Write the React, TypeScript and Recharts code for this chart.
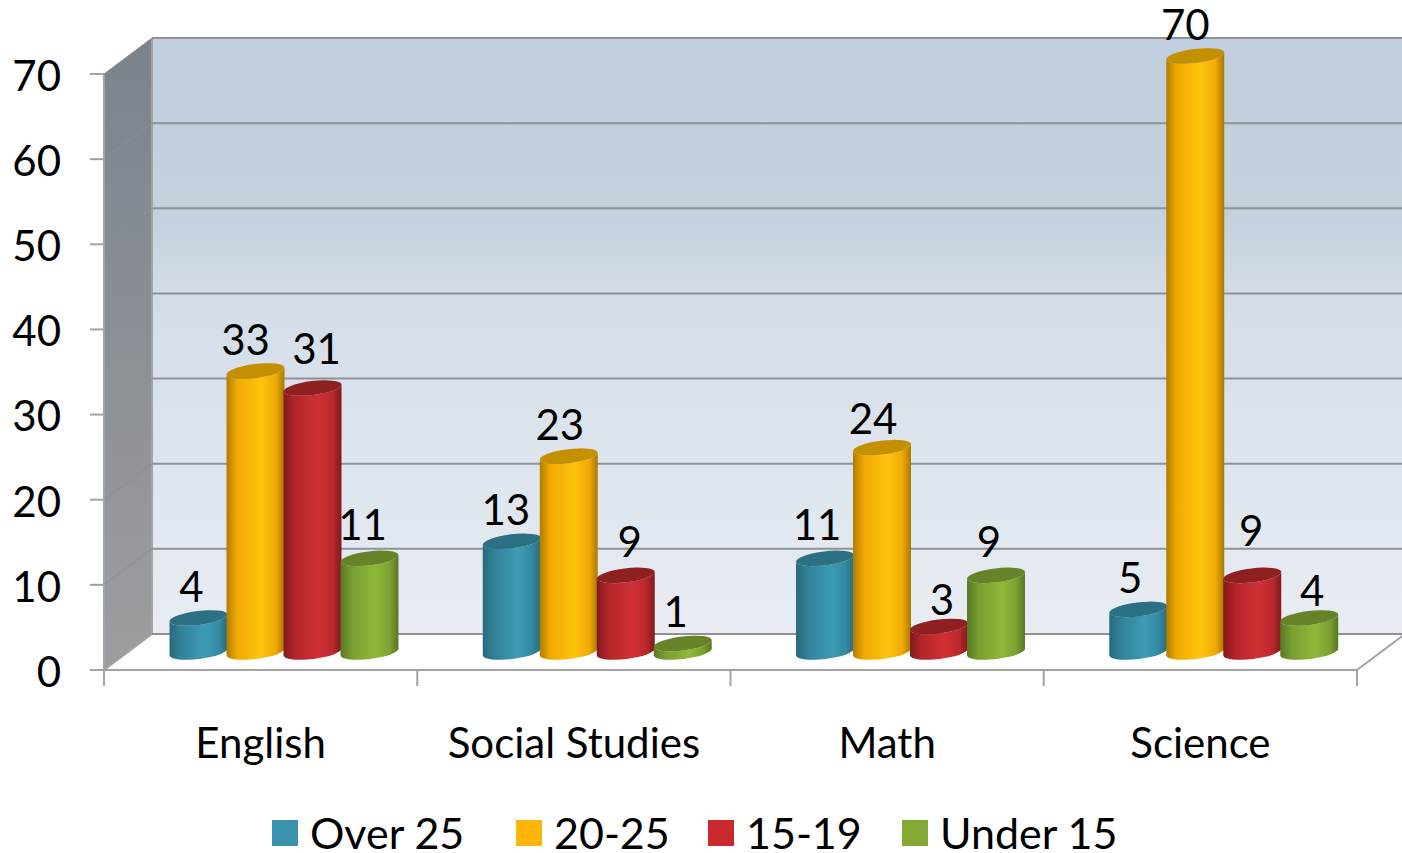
import { BarChart, Bar, XAxis, YAxis, CartesianGrid, Legend, LabelList, ReferenceArea } from 'recharts';

const subjects = ['English', 'Social Studies', 'Math', 'Science'];
const over25 = [4, 13, 11, 5];
const age20to25 = [33, 23, 24, 70];
const age15to19 = [31, 9, 3, 9];
const under15 = [11, 1, 9, 4];
const yTicks = [0, 10, 20, 30, 40, 50, 60, 70];

const data = subjects.map((subject, i) => ({
  subject,
  over25: over25[i],
  age20to25: age20to25[i],
  age15to19: age15to19[i],
  under15: under15[i],
}));

const FONT = 'Lato, sans-serif';
const GRAY = '#a3a3a3';

// depth of the fake 3d box
const DX = 48;
const DY = 36;
// bars stand halfway into the box
const BAR_DX = 24;
const BAR_DY = 18;
const TILT = 7;

const tiltCos = Math.cos((TILT * Math.PI) / 180);
const tiltSin = Math.sin((TILT * Math.PI) / 180);

const Cylinder = (props: any) => {
  const { x, y, width, height, gradient, topColor } = props;
  const cx = x + width / 2 + BAR_DX;
  const topY = y - BAR_DY;
  const baseY = y + height - BAR_DY;
  const rx = width / 2 + 0.7;
  const ry = 7;
  const ex = rx * tiltCos;
  const ey = rx * tiltSin;
  const body = [
    `M${cx - ex},${topY + ey}`,
    `L${cx - ex},${baseY + ey}`,
    `A${rx},${ry} ${-TILT} 0 0 ${cx + ex},${baseY - ey}`,
    `L${cx + ex},${topY - ey}`,
    `A${rx},${ry} ${-TILT} 0 1 ${cx - ex},${topY + ey}`,
    'Z',
  ].join(' ');
  return (
    <g>
      <path d={body} fill={`url(#${gradient})`} />
      <ellipse cx={cx} cy={topY} rx={rx} ry={ry} fill={topColor} transform={`rotate(${-TILT} ${cx} ${topY})`} />
    </g>
  );
};

// label offsets by subject, the original chart placed them by hand
const valueLabel = (nudges: number[][]) => (props: any) => {
  const { x, y, width, value, index } = props;
  const [nx, ny] = nudges[index];
  return (
    <text
      x={x + width / 2 + BAR_DX + nx}
      y={y - BAR_DY - 32 + ny}
      textAnchor="middle"
      dominantBaseline="central"
      fontFamily={FONT}
      fontSize={42}
      fill="#000"
    >
      {value}
    </text>
  );
};

const Walls = (props: any) => {
  const { x, y, width, height } = props;
  const bottom = y + height;
  return (
    <g>
      <polygon
        points={`${x + DX},${y - DY} ${x + width + DX},${y - DY} ${x + width + DX},${bottom - DY} ${x + DX},${bottom - DY}`}
        fill="url(#backWall)"
      />
      <polygon
        points={`${x},${y} ${x + DX},${y - DY} ${x + DX},${bottom - DY} ${x},${bottom}`}
        fill="url(#sideWall)"
      />
      <line x1={x + DX} y1={y - DY} x2={x + DX} y2={bottom - DY} stroke={GRAY} strokeWidth={2} />
      <line x1={x + width} y1={bottom} x2={x + width + DX} y2={bottom - DY} stroke={GRAY} strokeWidth={2} />
    </g>
  );
};

// grid line runs along the side wall, then along the back wall
const gridLine = (props: any) => {
  const { x1, x2, y1, index } = props;
  return (
    <g key={`grid-${index}`}>
      <line x1={x1} y1={y1} x2={x1 + DX} y2={y1 - DY} stroke={y1 > 660 ? GRAY : '#8b8f92'} strokeWidth={y1 > 660 ? 2 : 1} />
      <line x1={x1 + DX} y1={y1 - DY} x2={x2 + DX} y2={y1 - DY} stroke="#8f9295" strokeWidth={2} />
    </g>
  );
};

const SubjectTick = (props: any) => {
  const { x, y, payload, index, width } = props;
  const band = width / subjects.length;
  return (
    <g>
      <line x1={x - band / 2} y1={y - 8} x2={x - band / 2} y2={y + 8} stroke={GRAY} strokeWidth={2} />
      {index === subjects.length - 1 && (
        <line x1={x + band / 2} y1={y - 8} x2={x + band / 2} y2={y + 8} stroke={GRAY} strokeWidth={2} />
      )}
      <text x={x} y={y + 64} textAnchor="middle" dominantBaseline="central" fontFamily={FONT} fontSize={42} fill="#000">
        {payload.value}
      </text>
    </g>
  );
};

const legendWidths = [244, 192, 194, 240];

const LegendRow = (props: any) => (
  <div style={{ display: 'flex', alignItems: 'center', fontFamily: FONT, fontSize: 43, lineHeight: '40px', color: '#000' }}>
    {props.payload.map((item: any, i: number) => (
      <div key={item.value} style={{ display: 'flex', alignItems: 'center', width: legendWidths[i], whiteSpace: 'nowrap' }}>
        <span style={{ width: 26, height: 26, background: item.color, marginRight: 12, display: 'inline-block' }} />
        {item.value}
      </div>
    ))}
  </div>
);

export default function App() {
  return (
    <div style={{ position: 'absolute', left: 0, top: 0 }}>
      <BarChart
        width={1402}
        height={853}
        data={data}
        margin={{ top: 74, right: 45, bottom: 0, left: 0 }}
        barCategoryGap={42}
        barGap={0}
      >
        <defs>
          <linearGradient id="backWall" x1="0" y1="0" x2="0" y2="1">
            <stop offset="0" stopColor="#c2cfde" />
            <stop offset="0.3" stopColor="#c3d0de" />
            <stop offset="0.42" stopColor="#d2dce8" />
            <stop offset="1" stopColor="#e9edf3" />
          </linearGradient>
          <linearGradient id="sideWall" x1="0" y1="0" x2="0" y2="1">
            <stop offset="0" stopColor="#7b838b" />
            <stop offset="1" stopColor="#9c9ea1" />
          </linearGradient>
          <linearGradient id="cylTeal" x1="0" y1="0" x2="1" y2="0">
            <stop offset="0" stopColor="#29697c" />
            <stop offset="0.2" stopColor="#318299" />
            <stop offset="0.6" stopColor="#3e9bb4" />
            <stop offset="0.85" stopColor="#338aa2" />
            <stop offset="1" stopColor="#296a7c" />
          </linearGradient>
          <linearGradient id="cylYellow" x1="0" y1="0" x2="1" y2="0">
            <stop offset="0" stopColor="#b07c00" />
            <stop offset="0.18" stopColor="#f0a900" />
            <stop offset="0.6" stopColor="#ffc40f" />
            <stop offset="0.85" stopColor="#efaa05" />
            <stop offset="1" stopColor="#a97800" />
          </linearGradient>
          <linearGradient id="cylRed" x1="0" y1="0" x2="1" y2="0">
            <stop offset="0" stopColor="#83191c" />
            <stop offset="0.2" stopColor="#b32529" />
            <stop offset="0.6" stopColor="#d13135" />
            <stop offset="0.85" stopColor="#b9282c" />
            <stop offset="1" stopColor="#7f1a1c" />
          </linearGradient>
          <linearGradient id="cylGreen" x1="0" y1="0" x2="1" y2="0">
            <stop offset="0" stopColor="#597a24" />
            <stop offset="0.2" stopColor="#789f30" />
            <stop offset="0.6" stopColor="#8fb839" />
            <stop offset="0.85" stopColor="#7ba131" />
            <stop offset="1" stopColor="#587624" />
          </linearGradient>
        </defs>
        <ReferenceArea y1={0} y2={70} shape={Walls} ifOverflow="visible" stroke="none" zIndex={-200} />
        <CartesianGrid vertical={false} horizontal={gridLine} zIndex={-100} />
        <XAxis
          dataKey="subject"
          height={183}
          interval={0}
          axisLine={{ stroke: GRAY, strokeWidth: 2 }}
          tickLine={false}
          tick={SubjectTick}
        />
        <YAxis
          width={104}
          domain={[0, 70]}
          ticks={yTicks}
          interval={0}
          tickSize={14}
          tickMargin={29}
          axisLine={{ stroke: GRAY, strokeWidth: 2 }}
          tickLine={{ stroke: GRAY, strokeWidth: 2 }}
          tick={{ fill: '#000', fontFamily: FONT, fontSize: 42, dy: 2 }}
        />
        <Legend
          verticalAlign="middle"
          content={LegendRow}
          itemSorter={null}
          wrapperStyle={{ left: 272, top: 813, width: 1000, bottom: 'auto' }}
        />
        <Bar
          dataKey="over25"
          name="Over 25"
          fill="#3a93ad"
          isAnimationActive={false}
          shape={(p: any) => <Cylinder {...p} gradient="cylTeal" topColor="#2c7084" />}
        >
          <LabelList dataKey="over25" content={valueLabel([[-7, 0], [-6, 0], [-8, -2], [-8, 0]])} />
        </Bar>
        <Bar
          dataKey="age20to25"
          name="20-25"
          fill="#ffb40a"
          isAnimationActive={false}
          shape={(p: any) => <Cylinder {...p} gradient="cylYellow" topColor="#c48f00" />}
        >
          <LabelList dataKey="age20to25" content={valueLabel([[-10, 0], [-9, 0], [-9, 2], [-10, 0]])} />
        </Bar>
        <Bar
          dataKey="age15to19"
          name="15-19"
          fill="#c9282d"
          isAnimationActive={false}
          shape={(p: any) => <Cylinder {...p} gradient="cylRed" topColor="#8f2022" />}
        >
          <LabelList dataKey="age15to19" content={valueLabel([[4, -8], [4, -2], [3, 5], [-1, -13]])} />
        </Bar>
        <Bar
          dataKey="under15"
          name="Under 15"
          fill="#83a834"
          isAnimationActive={false}
          shape={(p: any) => <Cylinder {...p} gradient="cylGreen" topColor="#678329" />}
        >
          <LabelList dataKey="under15" content={valueLabel([[-7, -2], [-7, 0], [-7, -2], [3, 4]])} />
        </Bar>
      </BarChart>
    </div>
  );
}
